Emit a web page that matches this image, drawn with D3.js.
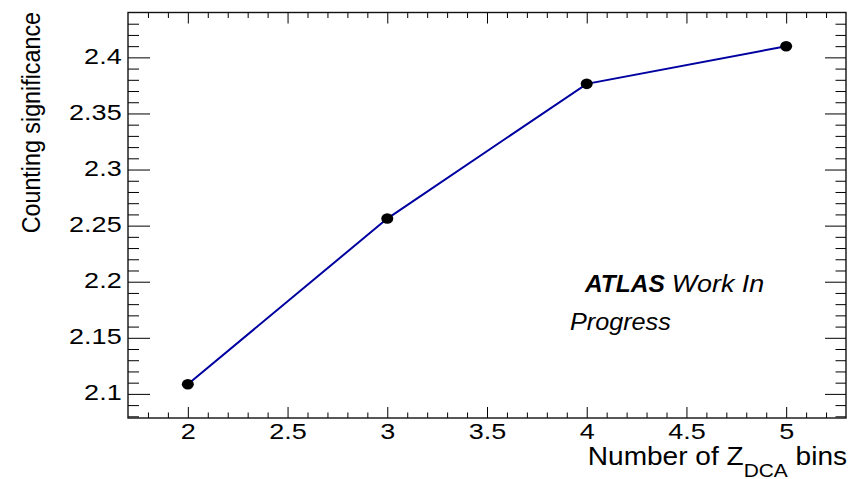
<!DOCTYPE html>
<html>
<head>
<meta charset="utf-8">
<script src="https://cdn.jsdelivr.net/npm/d3@7"></script>
<style>
    body { margin: 0; background: #fff; }
    svg { display: block; font-family: "Liberation Sans", Arial, Helvetica, sans-serif; }
</style>
</head>
<body>
<svg id="chart" width="851" height="479"></svg>
<script>
// number of Z_DCA bins vs counting significance
const nBins = [2, 3, 4, 5];
const significance = [2.1086, 2.2563, 2.3764, 2.4099];
const xTickValues = [2, 2.5, 3, 3.5, 4, 4.5, 5];
const yTickValues = [2.1, 2.15, 2.2, 2.25, 2.3, 2.35, 2.4];
const xTickLabels = ['2', '2.5', '3', '3.5', '4', '4.5', '5'];
const yTickLabels = ['2.1', '2.15', '2.2', '2.25', '2.3', '2.35', '2.4'];

const svg = d3.select('#chart');
const frame = { left: 128, right: 846, top: 12.5, bottom: 418 };

const x = d3.scaleLinear().domain([1.7, 5.3]).range([frame.left, frame.right]);
const y = d3.scaleLinear().domain([2.0785, 2.44]).range([frame.bottom, frame.top]);

// minor ticks, every 0.1 on x and 0.01 on y
const xMinor = d3.range(18, 53).map(d => d / 10).filter(d => !xTickValues.includes(d));
const yMinor = d3.range(208, 244).map(d => d / 100).filter(d => !yTickValues.some(v => Math.abs(v - d) < 1e-9));

function styleAxis(g) {
    g.select('.domain').remove();
    g.selectAll('line').attr('stroke', '#000').attr('stroke-width', 1);
}

// bottom axis
svg.append('g')
.attr('transform', 'translate(0,' + frame.bottom + ')')
.call(d3.axisBottom(x).tickValues(xMinor).tickSize(-5.5).tickFormat(''))
.call(styleAxis);
const xAxisG = svg.append('g')
.attr('transform', 'translate(0,' + frame.bottom + ')')
.call(d3.axisBottom(x).tickValues(xTickValues).tickSize(-11).tickPadding(5)
    .tickFormat((d, i) => xTickLabels[i]))
.call(styleAxis);
xAxisG.selectAll('text')
.attr('font-size', 22.5)
.attr('font-family', null)
.attr('fill', '#000')
.attr('transform', 'scale(1.2,1)');

// top axis (mirrored ticks)
svg.append('g')
.attr('transform', 'translate(0,' + frame.top + ')')
.call(d3.axisTop(x).tickValues(xMinor).tickSize(-5.5).tickFormat(''))
.call(styleAxis);
svg.append('g')
.attr('transform', 'translate(0,' + frame.top + ')')
.call(d3.axisTop(x).tickValues(xTickValues).tickSize(-11).tickFormat(''))
.call(styleAxis);

// left axis
svg.append('g')
.attr('transform', 'translate(' + frame.left + ',0)')
.call(d3.axisLeft(y).tickValues(yMinor).tickSize(-11).tickFormat(''))
.call(styleAxis);
const yAxisG = svg.append('g')
.attr('transform', 'translate(' + frame.left + ',0)')
.call(d3.axisLeft(y).tickValues(yTickValues).tickSize(-22).tickPadding(5.3)
    .tickFormat((d, i) => yTickLabels[i]))
.call(styleAxis);
yAxisG.selectAll('text')
.attr('font-size', 22.5)
.attr('font-family', null)
.attr('fill', '#000')
.attr('dy', '0.27em')
.attr('transform', 'scale(1.2,1)');

// right axis (mirrored ticks)
svg.append('g')
.attr('transform', 'translate(' + frame.right + ',0)')
.call(d3.axisRight(y).tickValues(yMinor).tickSize(-10.5).tickFormat(''))
.call(styleAxis);
svg.append('g')
.attr('transform', 'translate(' + frame.right + ',0)')
.call(d3.axisRight(y).tickValues(yTickValues).tickSize(-21).tickFormat(''))
.call(styleAxis);

// frame
svg.append('rect')
.attr('x', frame.left)
.attr('y', frame.top)
.attr('width', frame.right - frame.left)
.attr('height', frame.bottom - frame.top)
.attr('fill', 'none')
.attr('stroke', '#111')
.attr('stroke-width', 1.4);

// graph line + markers
const points = nBins.map((b, i) => ({ b: b, s: significance[i] }));
const line = d3.line().x(d => x(d.b)).y(d => y(d.s));
svg.append('path')
.datum(points)
.attr('d', line)
.attr('fill', 'none')
.attr('stroke', '#0000a0')
.attr('stroke-width', 2);

svg.selectAll('.marker')
.data(points)
.enter()
.append('ellipse')
.attr('class', 'marker')
.attr('cx', d => x(d.b))
.attr('cy', d => y(d.s))
.attr('rx', 6)
.attr('ry', 5.3)
.attr('fill', '#000');

// axis titles
svg.append('text')
.attr('transform', 'translate(39.5,12) scale(1.12,1) rotate(-90)')
.attr('text-anchor', 'end')
.attr('font-size', 23.3)
.text('Counting significance');

const xTitle = svg.append('text')
.attr('transform', 'translate(847,465) scale(1.1,1)')
.attr('text-anchor', 'end')
.attr('font-size', 25.5);
xTitle.append('tspan').text('Number of Z');
xTitle.append('tspan').attr('dy', 11.5).attr('font-size', 19).text('DCA');
xTitle.append('tspan').attr('dy', -11.5).text(' bins');

// ATLAS label
svg.append('text')
.attr('transform', 'translate(585,292) scale(1.02,1)')
.attr('font-size', 24)
.attr('font-weight', 'bold')
.attr('font-style', 'italic')
.text('ATLAS');
svg.append('text')
.attr('transform', 'translate(671.7,292) scale(1.12,1)')
.attr('font-size', 24)
.attr('font-style', 'italic')
.text('Work In');
svg.append('text')
.attr('transform', 'translate(570,330) scale(1.05,1)')
.attr('font-size', 24)
.attr('font-style', 'italic')
.text('Progress');
</script>
</body>
</html>
